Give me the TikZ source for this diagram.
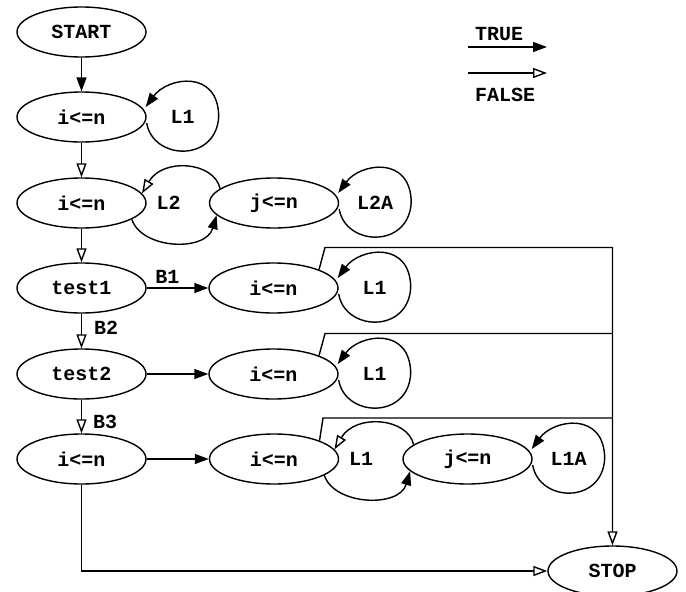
\documentclass[tikz,border=0pt]{standalone}
\usepackage{fontspec}
\setmainfont{Liberation Mono}
\usetikzlibrary{arrows.meta,shapes.geometric,calc}
\newcommand\selfloop[3]{%
  \draw[tarrow] ([yshift=-6pt]#1.east) .. controls +(6,37) and +(-3,46) .. ([xshift=72pt]#1.east)
     .. controls +(0,-48) and +(22,-30) .. ([xshift=-1pt,yshift=10pt]#1.east);
  \node[lab] (#3) at ([xshift=36pt]#1.east) {#2};}
\newcommand\twoloop[4]{%
  \draw[tarrow] (#1.-18) .. controls +(10,30) and +(-11,37) .. (#2.192);
  \draw[farrow] (#2.165) .. controls +(-6,-27) and +(21,-36) .. (#1.9);
  \node[lab] (#4) at ([xshift=22pt]#1.east) {#3};}
\begin{document}
\begin{tikzpicture}[x=1pt,y=-1pt,
  every node/.style={font=\fontsize{20}{22}\selectfont\bfseries},
  st/.style={ellipse,draw,line width=1.4pt,minimum width=129pt,minimum height=50pt,inner sep=0pt},
  lab/.style={inner sep=0pt},
  tarrow/.style={line width=1.4pt,-{Triangle[length=14pt,width=10pt]}},
  farrow/.style={line width=1.4pt,-{Triangle[open,length=14pt,width=10pt]}},
  plain/.style={line width=1.4pt}]
\useasboundingbox (0,0) rectangle (686,592);
% nodes
\node[st] (start) at (81.5,32) {START};
\node[st] (a1) at (81.5,117) {i<=n};
\node[st] (a2) at (81.5,203) {i<=n};
\node[st] (b2) at (274,203) {j<=n};
\node[st] (t1) at (81.5,288) {test1};
\node[st] (c3) at (273.5,288) {i<=n};
\node[st] (t2) at (81.5,374) {test2};
\node[st] (c4) at (273.5,374) {i<=n};
\node[st] (a5) at (81.5,459) {i<=n};
\node[st] (c5) at (274,459) {i<=n};
\node[st] (d5) at (467.5,459) {j<=n};
\node[st] (stop) at (612.5,571) {STOP};
% main column
\draw[tarrow] (start) -- (a1);
\draw[farrow] (a1) -- (a2);
\draw[farrow] (a2) -- (t1);
\draw[farrow] (t1) -- node[lab,anchor=west,xshift=12pt,yshift=3pt] (lB2) {B2} (t2);
\draw[farrow] (t2) -- node[lab,anchor=west,xshift=11pt,yshift=-5pt] (lB3) {B3} (a5);
% horizontal
\draw[tarrow] (t1) -- node[lab,anchor=south,xshift=-10pt,yshift=4pt] (lB1) {B1} (c3);
\draw[tarrow] (t2) -- (c4);
\draw[tarrow] (a5) -- (c5);
% loops
\selfloop{a1}{L1}{la1}
\selfloop{c3}{L1}{lc3}
\selfloop{c4}{L1}{lc4}
\selfloop{b2}{L2A}{lb2}
\selfloop{d5}{L1A}{ld5}
\twoloop{a2}{b2}{L2}{lL2}
\twoloop{c5}{d5}{L1}{lL5}
% exits to STOP
\coordinate (k3) at ([xshift=51.5pt,yshift=40.5pt]c3.center);
\coordinate (k4) at ([xshift=51.5pt,yshift=40.5pt]c4.center);
\coordinate (k5) at ([xshift=49pt,yshift=41pt]c5.center);
\draw[farrow] (c3.22) -- (k3) -| (stop.north);
\draw[plain] (c4.22) -- (k4) -- (k4 -| stop.north);
\draw[plain] (c5.22) -- (k5) -- (k5 -| stop.north);
\draw[farrow] (a5.south) |- (stop.west);
% legend
\node[lab,anchor=west] (ltrue) at (475,34) {TRUE};
\coordinate (tr1) at (468,47);
\coordinate (tr2) at (547,47);
\draw[tarrow] (tr1) -- (tr2);
\coordinate (fa1) at (468,73);
\coordinate (fa2) at (547,73);
\draw[farrow] (fa1) -- (fa2);
\node[lab,anchor=west] (lfalse) at (475,95) {FALSE};
\end{tikzpicture}
\end{document}
